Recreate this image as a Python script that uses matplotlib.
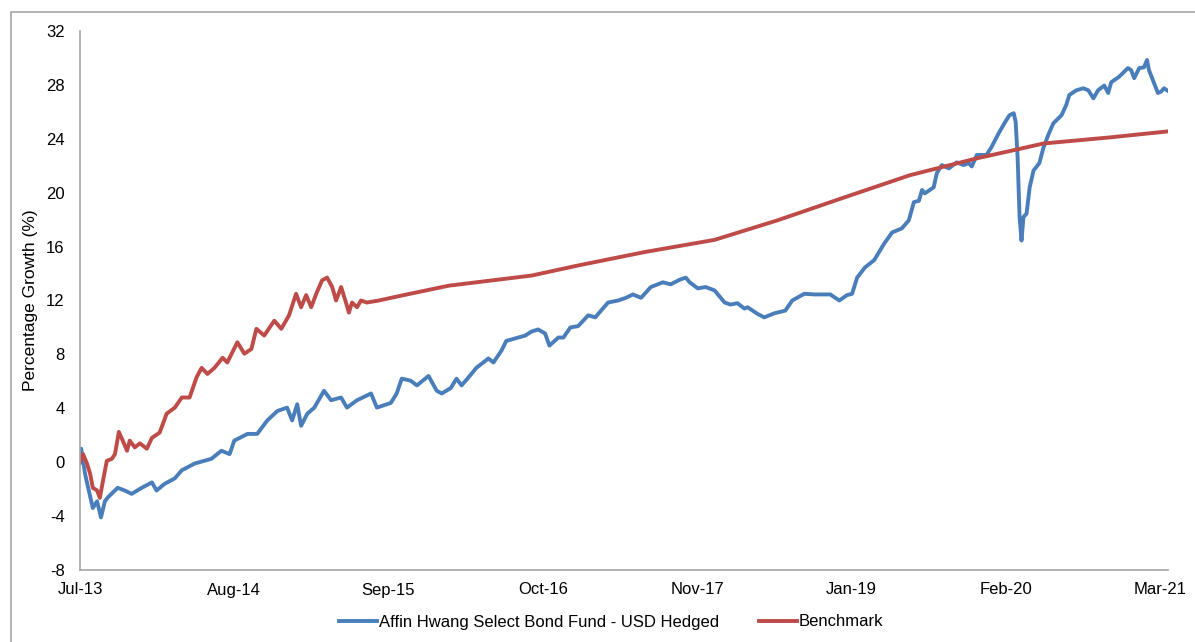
import numpy as np
import pandas as pd
import matplotlib
matplotlib.use('Agg')
import matplotlib.pyplot as plt
from matplotlib.patches import Rectangle

plt.rcParams['font.family'] = ['Liberation Sans', 'DejaVu Sans']
plt.rcParams['axes.unicode_minus'] = False

START = pd.Timestamp('2013-07-15')

# Fund: days since launch, percentage growth
fund_days = [0, 3, 13, 21, 33, 44, 54, 64, 72, 97, 115, 133, 159, 185, 197, 218, 244, 262, 295,
             338, 364, 385, 397, 431, 456, 482, 508, 533, 546, 559, 569, 585, 603, 628, 646, 672,
             687, 713, 749, 764, 800, 815, 828, 851, 867, 897, 918, 931, 954, 969, 982, 1000,
             1020, 1051, 1064, 1085, 1097, 1128, 1146, 1162, 1179, 1197, 1208, 1231, 1244, 1262,
             1282, 1308, 1326, 1359, 1385, 1405, 1423, 1444, 1469, 1500, 1520, 1544, 1559, 1569,
             1590, 1610, 1633, 1659, 1674, 1692, 1710, 1718, 1744, 1761, 1787, 1815, 1833, 1864,
             1890, 1931, 1954, 1974, 1987, 2000, 2020, 2044, 2069, 2090, 2115, 2133, 2146, 2159,
             2167, 2174, 2197, 2205, 2218, 2236, 2256, 2274, 2287, 2295, 2308, 2333, 2346, 2364,
             2379, 2392, 2403, 2408, 2413, 2418, 2423, 2428, 2436, 2444, 2454, 2469, 2479, 2492,
             2505, 2526, 2538, 2546, 2564, 2582, 2595, 2608, 2620, 2636, 2646, 2654, 2674, 2697,
             2705, 2713, 2726, 2738, 2746, 2751, 2764, 2774, 2782, 2790, 2800]
fund_vals = [0.0, 1.0, -0.86, -1.9, -3.4, -2.9, -4.1, -2.9, -2.6, -1.9, -2.1, -2.35, -1.9, -1.5,
             -2.1, -1.6, -1.2, -0.6, -0.1, 0.25, 0.85, 0.6, 1.6, 2.1, 2.1, 3.1, 3.8, 4.05, 3.1,
             4.3, 2.7, 3.6, 4.05, 5.3, 4.6, 4.8, 4.05, 4.6, 5.1, 4.05, 4.4, 5.1, 6.2, 6.05, 5.7,
             6.4, 5.3, 5.1, 5.5, 6.2, 5.7, 6.3, 7.0, 7.7, 7.4, 8.3, 9.0, 9.25, 9.4, 9.7, 9.85,
             9.55, 8.65, 9.25, 9.25, 10.0, 10.1, 10.9, 10.75, 11.85, 12.0, 12.2, 12.45, 12.2,
             13.0, 13.35, 13.2, 13.55, 13.7, 13.35, 12.9, 13.0, 12.75, 11.85, 11.7, 11.8, 11.4,
             11.5, 11.0, 10.75, 11.05, 11.25, 12.0, 12.5, 12.45, 12.45, 12.0, 12.4, 12.5, 13.7,
             14.45, 15.0, 16.2, 17.05, 17.35, 17.95, 19.3, 19.4, 20.2, 19.95, 20.4, 21.45, 22.05,
             21.8, 22.25, 22.05, 22.2, 21.95, 22.8, 22.8, 23.4, 24.4, 25.15, 25.75, 25.9, 25.25,
             22.6, 18.2, 16.45, 18.2, 18.45, 20.4, 21.65, 22.2, 23.3, 24.3, 25.15, 25.75, 26.5,
             27.25, 27.6, 27.75, 27.6, 27.0, 27.6, 27.95, 27.4, 28.2, 28.6, 29.25, 29.1, 28.5,
             29.25, 29.3, 29.85, 29.1, 28.15, 27.4, 27.5, 27.75, 27.55]

# Benchmark
bench_days = [0, 3, 8, 18, 26, 33, 44, 51, 59, 69, 82, 90, 100, 110, 121, 128, 141, 154, 172,
              185, 205, 223, 244, 262, 282, 300, 313, 328, 346, 367, 379, 405, 423, 441, 454,
              474, 500, 518, 538, 556, 569, 582, 595, 608, 623, 636, 649, 659, 672, 685, 692,
              700, 713, 723, 738, 769, 833, 949, 1162, 1282, 1385, 1454, 1633, 1795, 1967, 2136,
              2308, 2410, 2479, 2649, 2800]
bench_vals = [0.0, 0.2, 0.6, -0.1, -0.85, -1.9, -2.1, -2.65, -1.4, 0.1, 0.25, 0.6, 2.25, 1.6,
              0.85, 1.6, 1.1, 1.4, 1.0, 1.8, 2.2, 3.6, 4.05, 4.8, 4.8, 6.3, 7.0, 6.55, 7.0, 7.75,
              7.4, 8.9, 8.05, 8.4, 9.9, 9.4, 10.5, 9.9, 10.9, 12.5, 11.5, 12.4, 11.5, 12.5, 13.5,
              13.7, 13.0, 12.0, 13.0, 11.8, 11.1, 11.85, 11.5, 12.0, 11.85, 12.0, 12.4, 13.1,
              13.85, 14.6, 15.2, 15.6, 16.5, 17.95, 19.65, 21.3, 22.55, 23.2, 23.65, 24.1, 24.55]

tick_days = [0, 397, 794, 1191, 1588, 1985, 2382, 2779]
tick_labels = ['Jul-13', 'Aug-14', 'Sep-15', 'Oct-16', 'Nov-17', 'Jan-19', 'Feb-20', 'Mar-21']
y_ticks = list(range(-8, 33, 4))

fund_dates = START + pd.to_timedelta(fund_days, unit='D')
bench_dates = START + pd.to_timedelta(bench_days, unit='D')
tick_dates = START + pd.to_timedelta(tick_days, unit='D')

fig = plt.figure(figsize=(11.95, 6.42), dpi=100)
fig.patches.append(Rectangle((11 / 1195, -0.1), 1.2, 1 - 12 / 642 + 0.1, transform=fig.transFigure,
                             facecolor='none', edgecolor='#a6a6a6', linewidth=1.2))
ax = fig.add_axes([80 / 1195, 72 / 642, 1088 / 1195, 539 / 642])

ax.plot(fund_dates, fund_vals, color='#4a7ebb', linewidth=2.8,
        label='Affin Hwang Select Bond Fund - USD Hedged')
ax.plot(bench_dates, bench_vals, color='#be4b48', linewidth=2.8, label='Benchmark')

ax.set_xlim(fund_dates[0], fund_dates[-1])
ax.set_ylim(-8, 32)
ax.set_yticks(y_ticks)
ax.set_xticks(tick_dates)
ax.set_xticklabels(tick_labels)
ax.tick_params(axis='both', length=0, labelsize=12, colors='#000000')
ax.tick_params(axis='y', pad=11)
ax.tick_params(axis='x', pad=9)
for s in ['top', 'right']:
    ax.spines[s].set_visible(False)
for s in ['left', 'bottom']:
    ax.spines[s].set_color('#a6a6a6')
    ax.spines[s].set_linewidth(1.2)
ax.set_ylabel('Percentage Growth (%)', fontsize=12.5, labelpad=6)

fig.legend(loc='center', bbox_to_anchor=(611 / 1195, 1 - 622 / 642), ncol=2, frameon=False,
           fontsize=12, handlelength=2.3, handletextpad=0.1, columnspacing=2.4)

fig.savefig('out.png', dpi=100)
